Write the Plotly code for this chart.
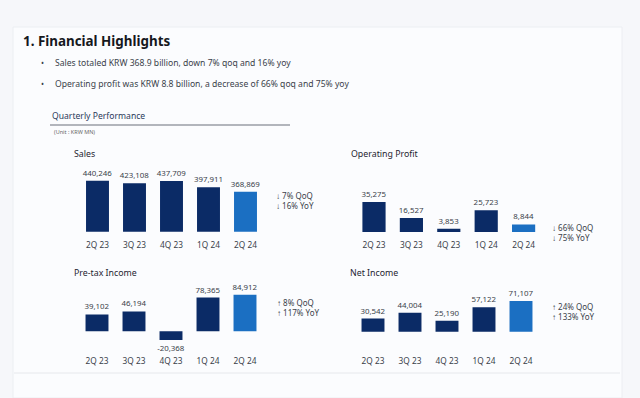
import plotly.graph_objects as go

quarters = ["2Q 23", "3Q 23", "4Q 23", "1Q 24", "2Q 24"]
sales = [440246, 423108, 437709, 397911, 368869]
op_profit = [35275, 16527, 3853, 25723, 8844]
pretax = [39102, 46194, -20368, 78365, 84912]
net_income = [30542, 44004, 25190, 57122, 71107]

panel_titles = ["Sales", "Operating Profit", "Pre-tax Income", "Net Income"]
panel_notes = [["↓ 7% QoQ", "↓ 16% YoY"], ["↓ 66% QoQ", "↓ 75% YoY"],
               ["↑ 8% QoQ", "↑ 117% YoY"], ["↑ 24% QoQ", "↑ 133% YoY"]]
bullets = ["Sales totaled KRW 368.9 billion, down 7% qoq and 16% yoy",
           "Operating profit was KRW 8.8 billion, a decrease of 66% qoq and 75% yoy"]

W, H = 640, 398
NAVY = "#0b2b66"
BLUE = "#1b6fc2"
TXT = "#3a3f4a"
FONT = "Noto Sans"

def px(x):
    return x / W

def py(y):
    return 1 - y / H

fig = go.Figure()

# panel geometry in pixels: (x0, x1, y_top, y_bottom, yrange)
panels = [
    (79, 264, 170, 231.7, [111000, 111000 + 61.7 / 1.55e-4], sales),
    (355.3, 542.3, 170, 232, [0, 62 / 0.00085], op_profit),
    (78.5, 263.5, 280, 350, [-(350 - 331.3) / 0.00043, (331.3 - 280) / 0.00043], pretax),
    (354.5, 539.5, 280, 350, [-(350 - 331.7) / 0.00043, (331.7 - 280) / 0.00043], net_income),
]
standoffs = [7, 7, 5, 5]

layout_axes = {}
for i, (x0, x1, yt, yb, yr, vals) in enumerate(panels):
    n = i + 1
    xa = "x" if n == 1 else f"x{n}"
    ya = "y" if n == 1 else f"y{n}"
    colors = [NAVY] * (len(vals) - 1) + [BLUE]
    fig.add_trace(go.Bar(
        x=quarters, y=vals, xaxis=xa, yaxis=ya,
        marker=dict(color=colors, line=dict(width=0)),
        text=[f"{v:,}" for v in vals], textposition="outside", constraintext="none",
        textfont=dict(size=7.9, color=TXT, family=FONT),
        cliponaxis=False, showlegend=False, hoverinfo="skip",
    ))
    kx = "xaxis" if n == 1 else f"xaxis{n}"
    ky = "yaxis" if n == 1 else f"yaxis{n}"
    layout_axes[kx] = dict(domain=[px(x0), px(x1)], anchor=ya, showgrid=False,
                           showline=False, zeroline=False, ticks="",
                           ticklabelstandoff=standoffs[i],
                           tickfont=dict(size=8.3, color=TXT, family=FONT),
                           fixedrange=True)
    layout_axes[ky] = dict(domain=[py(yb), py(yt)], anchor=xa, range=yr,
                           visible=False, fixedrange=True)

fig.update_layout(**layout_axes)
fig.update_layout(bargap=0.38)

def note(x, y, text, size, color, **kw):
    return dict(x=px(x), y=py(y), xref="paper", yref="paper", text=text, showarrow=False,
                xanchor="left", yanchor="middle", font=dict(size=size, color=color, family=FONT), **kw)

ann = []
ann.append(note(21, 41, "<b>1. Financial Highlights</b>", 13.4, "#16181d"))
for j, b in enumerate(bullets):
    yy = 63 + j * 20.5
    ann.append(note(39, yy, "•", 8, TXT))
    ann.append(note(53, yy, b, 8.6, TXT))
ann.append(note(50, 116, "Quarterly Performance", 8.6, "#2a3a5a"))
ann.append(note(52, 131.5, "(Unit : KRW MN)", 5.5, "#666"))

title_pos = [(72, 154), (349, 154), (72, 273), (348, 273)]
note_pos = [(274, 200.5), (550, 232.5), (275, 307), (550, 311)]
for i in range(4):
    ann.append(note(title_pos[i][0], title_pos[i][1], panel_titles[i], 8.8, "#1e2430"))
    ann.append(note(note_pos[i][0], note_pos[i][1], "<br>".join(panel_notes[i]), 8, TXT,
                    align="left"))

shapes = [
    dict(type="rect", xref="paper", yref="paper", x0=px(13), x1=px(622), y0=py(398), y1=py(27),
         fillcolor="#fbfcfe", line=dict(color="#eceef2", width=1), layer="below"),
    dict(type="line", xref="paper", yref="paper", x0=px(50), x1=px(290), y0=py(125), y1=py(125),
         line=dict(color="#9a9ea6", width=1.5)),
    dict(type="line", xref="paper", yref="paper", x0=px(14), x1=px(620), y0=py(373), y1=py(373),
         line=dict(color="#e6e8ec", width=1)),
]

fig.update_layout(
    width=W, height=H, margin=dict(l=0, r=0, t=0, b=0),
    paper_bgcolor="#f6f7fa", plot_bgcolor="rgba(0,0,0,0)",
    annotations=ann, shapes=shapes, font=dict(family=FONT),
)

fig.write_html("out.html", config={"displayModeBar": False},
               post_script="document.body.style.margin='0';document.body.style.overflow='hidden';")
